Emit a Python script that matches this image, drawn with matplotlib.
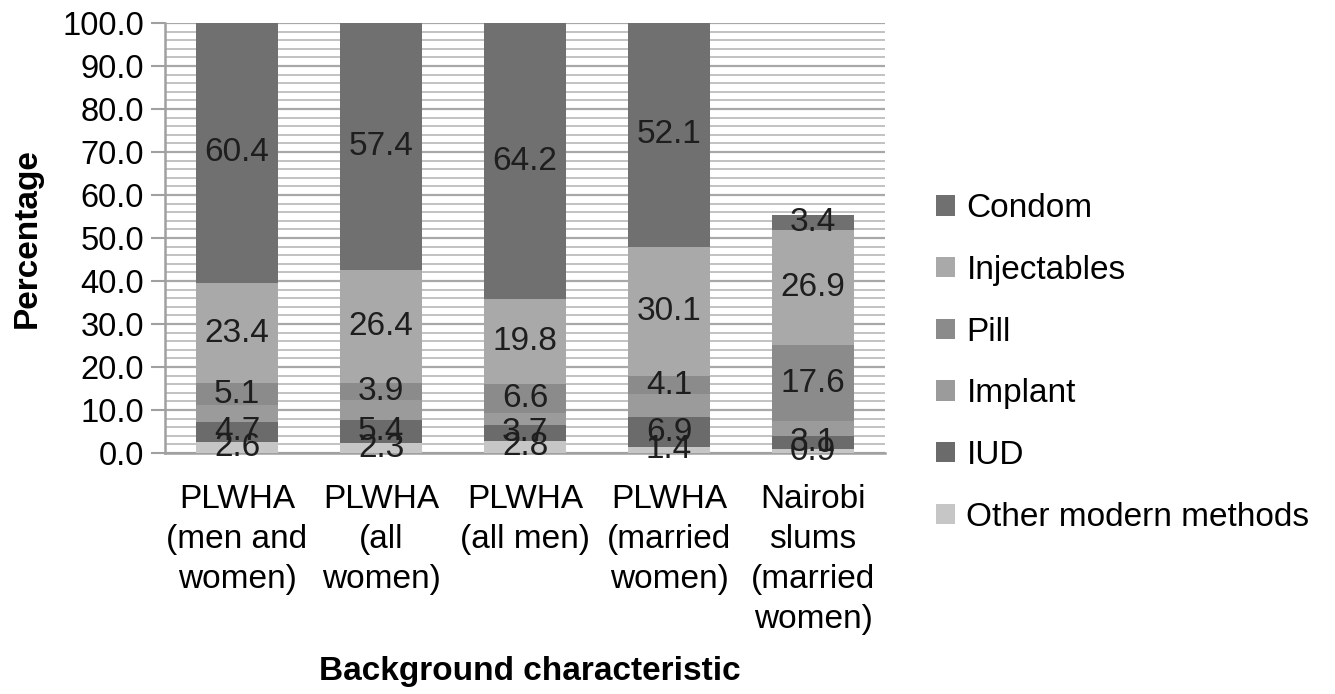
import matplotlib.pyplot as plt
import numpy as np

plt.rcParams['font.family'] = ['Liberation Sans', 'DejaVu Sans']

groups = ['PLWHA\n(men and\nwomen)', 'PLWHA\n(all\nwomen)', 'PLWHA\n(all men)',
          'PLWHA\n(married\nwomen)', 'Nairobi\nslums\n(married\nwomen)']
methods = ['Other modern methods', 'IUD', 'Implant', 'Pill', 'Injectables', 'Condom']
other = [2.6, 2.3, 2.8, 1.4, 0.9]
iud = [4.7, 5.4, 3.7, 6.9, 3.1]
implant = [3.8, 4.6, 2.9, 5.4, 3.4]
pill = [5.1, 3.9, 6.6, 4.1, 17.6]
injectables = [23.4, 26.4, 19.8, 30.1, 26.9]
condom = [60.4, 57.4, 64.2, 52.1, 3.4]
show_label = [True, True, False, True, True, True]  # implant labels not shown

colors = ['#c6c6c6', '#6b6b6b', '#9b9b9b', '#8b8b8b', '#a9a9a9', '#707070']
series = [other, iud, implant, pill, injectables, condom]

fig = plt.figure(figsize=(13.35, 6.94), dpi=100)
ax = fig.add_axes([0.1236, 0.3473, 0.5394, 0.6196])

x = np.arange(len(groups))
bottom = np.zeros(len(groups))
for vals, c, name, lab in zip(series, colors, methods, show_label):
    ax.bar(x, vals, 0.57, bottom=bottom, color=c, label=name, zorder=3)
    if lab:
        for xi, v, b0 in zip(x, vals, bottom):
            ax.text(xi, b0 + v / 2, '%.1f' % v, ha='center', va='center',
                    fontsize=24, color='#1e1e1e', zorder=4)
    bottom += np.array(vals)

ax.set_xlim(-0.5, 4.5)
ax.set_ylim(0, 100)
ax.set_yticks(np.arange(0, 101, 10))
ax.set_yticklabels(['%.1f' % v for v in np.arange(0, 101, 10)], fontsize=23.5)
ax.set_yticks(np.arange(0, 101, 2), minor=True)
ax.tick_params(axis='y', which='major', length=10, color='#a0a0a0', width=1.5, pad=5)
ax.tick_params(axis='y', which='minor', length=0)
ax.grid(axis='y', which='major', color='#a8a8a8', linewidth=1.6, zorder=1)
ax.grid(axis='y', which='minor', color='#bdbdbd', linewidth=1.3, zorder=1)
ax.set_xticks(x)
ax.set_xticklabels(groups, fontsize=24, linespacing=1.38)
ax.tick_params(axis='x', length=0, pad=22)
for s in ['top', 'right']:
    ax.spines[s].set_visible(False)
for s in ['left', 'bottom']:
    ax.spines[s].set_color('#a0a0a0')
    ax.spines[s].set_linewidth(1.8)

ax.set_ylabel('Percentage', fontsize=24, fontweight='bold', labelpad=14)
fig.text(0.397, 0.032, 'Background characteristic', fontsize=24, fontweight='bold',
         ha='center', va='center')

h, l = ax.get_legend_handles_labels()
fig.legend(h[::-1], l[::-1], loc='center left', bbox_to_anchor=(0.679, 0.477),
           frameon=False, fontsize=24, handlelength=0.55, handleheight=0.55,
           handletextpad=0.35, labelspacing=0.92)

fig.savefig('out.png', dpi=100)
